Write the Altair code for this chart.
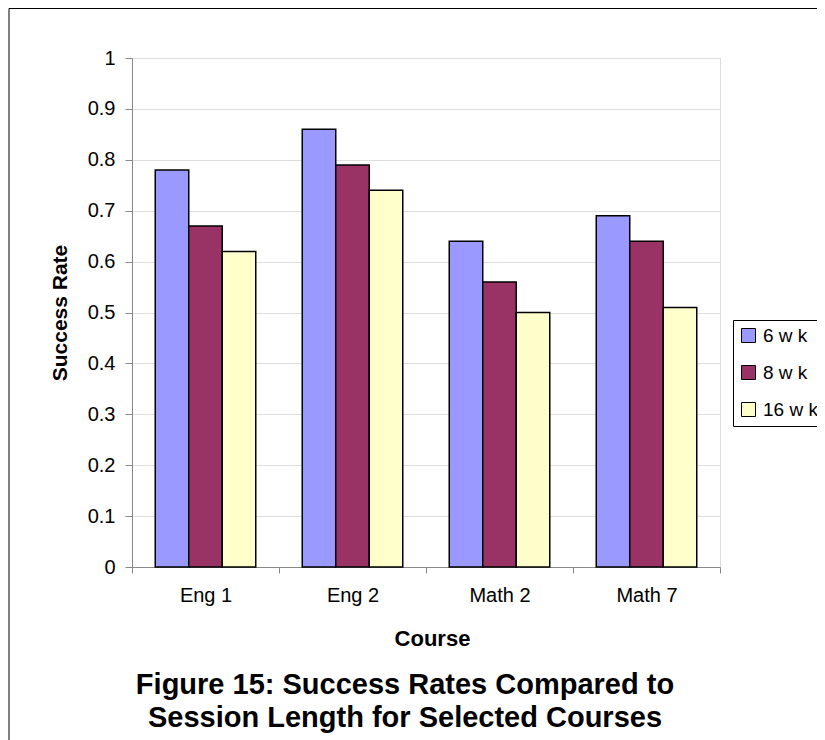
import altair as alt
import pandas as pd

courses = ["Eng 1", "Eng 2", "Math 2", "Math 7"]
series = ["6 w k", "8 w k", "16 w k"]
wk6 = [0.78, 0.86, 0.64, 0.69]
wk8 = [0.67, 0.79, 0.56, 0.64]
wk16 = [0.62, 0.74, 0.50, 0.51]
colors = ["#9999FF", "#993366", "#FFFFCC"]
y_ticks = [0.0, 0.1, 0.2, 0.3, 0.4, 0.5, 0.6, 0.7, 0.8, 0.9, 1.0]
title_lines = ["Figure 15: Success Rates Compared to",
               "Session Length for Selected Courses"]

rows = []
for name, vals in zip(series, [wk6, wk8, wk16]):
    for c, v in zip(courses, vals):
        rows.append({"Course": c, "Series": name, "Rate": v})
df = pd.DataFrame(rows)

FONT = "Liberation Sans"

frame = alt.Chart(alt.Data(values=[{"f": 1}])).mark_rect(
    fill="white", fillOpacity=0, stroke="black", strokeWidth=1
).encode(
    x=alt.value(-123), x2=alt.value(720),
    y=alt.value(-49.5), y2=alt.value(690)
)

bars = alt.Chart(df).mark_bar(stroke="black", strokeWidth=1.5).encode(
    x=alt.X("Course:N", sort=courses,
            scale=alt.Scale(paddingInner=0, paddingOuter=0),
            axis=alt.Axis(title="Course", labelAngle=0, tickBand="extent",
                          grid=False, tickSize=6, labelPadding=12,
                          labelFontSize=20, titleFontSize=22,
                          titleX=300, titleY=71, titleBaseline="middle")),
    xOffset=alt.XOffset("Series:N", sort=series,
                        scale=alt.Scale(paddingInner=0, paddingOuter=0.694)),
    y=alt.Y("Rate:Q", scale=alt.Scale(domain=[0, 1], nice=False),
            axis=alt.Axis(title="Success Rate", values=y_ticks, format=".1~f",
                          grid=True, tickSize=7, labelPadding=10,
                          labelFontSize=20, titleFontSize=21,
                          titleX=-72, titleY=254.5, titleAlign="center",
                          titleBaseline="middle")),
    color=alt.Color("Series:N", sort=series,
                    scale=alt.Scale(domain=series, range=colors),
                    legend=alt.Legend(title=None, orient="none", legendX=601, legendY=262,
                                      direction="vertical", strokeColor="black",
                                      fillColor="white", padding=6,
                                      labelFontSize=19, labelFont=FONT, labelColor="black",
                                      symbolType="square", symbolSize=196,
                                      symbolStrokeColor="black", symbolStrokeWidth=1,
                                      rowPadding=17, labelOffset=5)),
)

chart = alt.layer(frame, bars).properties(
    width=588, height=509,
    autosize=alt.AutoSizeParams(type="none"),
    padding={"left": 124, "top": 50, "right": 97, "bottom": 173},
    title=alt.TitleParams(text=title_lines, orient="bottom", anchor="middle",
                          fontSize=29, font=FONT, fontWeight="bold", color="black",
                          lineHeight=33, dx=-21, offset=-78, frame="group"),
).configure_view(
    stroke="#808080", strokeWidth=1
).configure_axis(
    labelFont=FONT, titleFont=FONT, labelColor="black", titleColor="black",
    titleFontWeight="bold", gridColor="#808080", gridWidth=1,
    domainColor="#333333", tickColor="#333333", domainWidth=1.5, tickWidth=1.5
).configure(background="white")

chart.save("out.html", embed_options={"renderer": "svg", "actions": False})
